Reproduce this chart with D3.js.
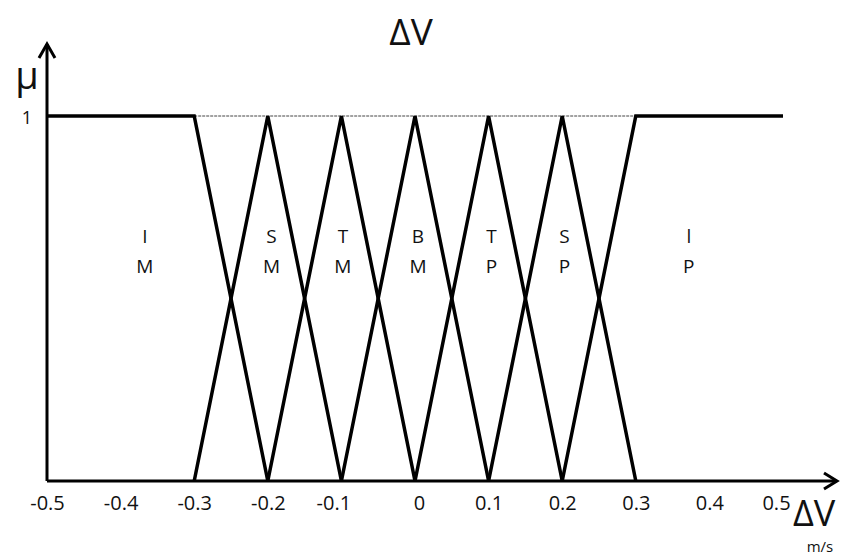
<!DOCTYPE html>
<html>
<head>
<meta charset="utf-8">
<script src="https://cdn.jsdelivr.net/npm/d3@7"></script>
<style>
  html, body { margin: 0; padding: 0; background: #fff; overflow: hidden; }
  svg { display: block; }
  text { font-family: "Open Sans", Lato, "Liberation Sans", sans-serif; fill: #111; }
</style>
</head>
<body>
<svg id="chart" width="841" height="558"></svg>
<script>
// Fuzzy sets for the speed difference ΔV (m/s): breakpoints [x, μ]
const setNames = ["IM", "SM", "TM", "BM", "TP", "SP", "IP"];
const setPoints = [
  [[-0.5, 1], [-0.3, 1], [-0.2, 0]],
  [[-0.3, 0], [-0.2, 1], [-0.1, 0]],
  [[-0.2, 0], [-0.1, 1], [0.0, 0]],
  [[-0.1, 0], [0.0, 1], [0.1, 0]],
  [[0.0, 0], [0.1, 1], [0.2, 0]],
  [[0.1, 0], [0.2, 1], [0.3, 0]],
  [[0.2, 0], [0.3, 1], [0.5, 1]]
];
// Two-line set labels and where they sit along ΔV
const labelTop = ["I", "S", "T", "B", "T", "S", "l"];
const labelBottom = ["M", "M", "M", "M", "P", "P", "P"];
const labelAt = [-0.367, -0.195, -0.098, 0.004, 0.104, 0.203, 0.372];
const xTicks = [-0.5, -0.4, -0.3, -0.2, -0.1, 0, 0.1, 0.2, 0.3, 0.4, 0.5];

const svg = d3.select("#chart");
const x = d3.scaleLinear().domain([-0.5, 0.5]).range([47, 783]);
const y = d3.scaleLinear().domain([0, 1]).range([481, 116]);

// Thin guide at μ = 1
svg.append("line")
  .attr("x1", x(-0.3)).attr("x2", x(0.3))
  .attr("y1", y(1)).attr("y2", y(1))
  .attr("stroke", "#444").attr("stroke-width", 1)
  .attr("stroke-dasharray", "3,1");

// Axes with open arrow heads
const axisG = svg.append("g").attr("stroke", "#000").attr("stroke-width", 3).attr("fill", "none");
axisG.append("line").attr("x1", x(-0.5)).attr("x2", 836).attr("y1", y(0)).attr("y2", y(0));
axisG.append("line").attr("x1", x(-0.5)).attr("x2", x(-0.5)).attr("y1", y(0)).attr("y2", 44);
axisG.append("path")
  .attr("d", `M${x(-0.5) - 8},58 L${x(-0.5)},44 L${x(-0.5) + 8},58`);
axisG.append("path")
  .attr("d", `M824,${y(0) - 8} L837,${y(0)} L824,${y(0) + 8}`);

// Membership functions
const line = d3.line().x(d => x(d[0])).y(d => y(d[1]));
svg.append("g").selectAll("path").data(setPoints).join("path")
  .attr("d", line)
  .attr("fill", "none").attr("stroke", "#000").attr("stroke-width", 3.5)
  .attr("stroke-linejoin", "miter");

// Tick labels
const xAxis = d3.axisBottom(x).tickValues(xTicks).tickSize(0).tickPadding(15)
  .tickFormat(d => d === 0 ? "0" : String(d));
const gx = svg.append("g").attr("transform", `translate(0,${y(0)})`).call(xAxis);
gx.select(".domain").remove();
gx.attr("font-size", null).attr("font-family", null);
gx.selectAll("text").attr("font-size", 20).attr("fill", "#111");
// small nudges so labels sit clear of the crossing lines and the axis name
const nudge = new Map([[-0.1, -8], [0, 4], [0.5, -7]]);
gx.selectAll(".tick text").attr("dx", d => nudge.get(d) || 0);

// Set labels
const lab = svg.append("g").attr("font-size", 19).attr("text-anchor", "middle");
labelAt.forEach((v, i) => {
  lab.append("text").attr("x", x(v)).attr("y", 243).text(labelTop[i]);
  lab.append("text").attr("x", x(v)).attr("y", 273).text(labelBottom[i]);
});

// Titles
svg.append("text").attr("x", 411).attr("y", 45).attr("text-anchor", "middle")
  .attr("font-size", 37).text("ΔV");
svg.append("text").attr("x", 27).attr("y", 89).attr("text-anchor", "middle")
  .attr("font-size", 38).text("μ");
svg.append("text").attr("x", 27).attr("y", 124).attr("text-anchor", "middle")
  .attr("font-size", 18).text("1");
svg.append("text").attr("x", 793).attr("y", 526).attr("text-anchor", "start")
  .attr("font-size", 36).text("ΔV");
svg.append("text").attr("x", 820).attr("y", 552).attr("text-anchor", "middle")
  .attr("font-size", 15).text("m/s");
</script>
</body>
</html>
